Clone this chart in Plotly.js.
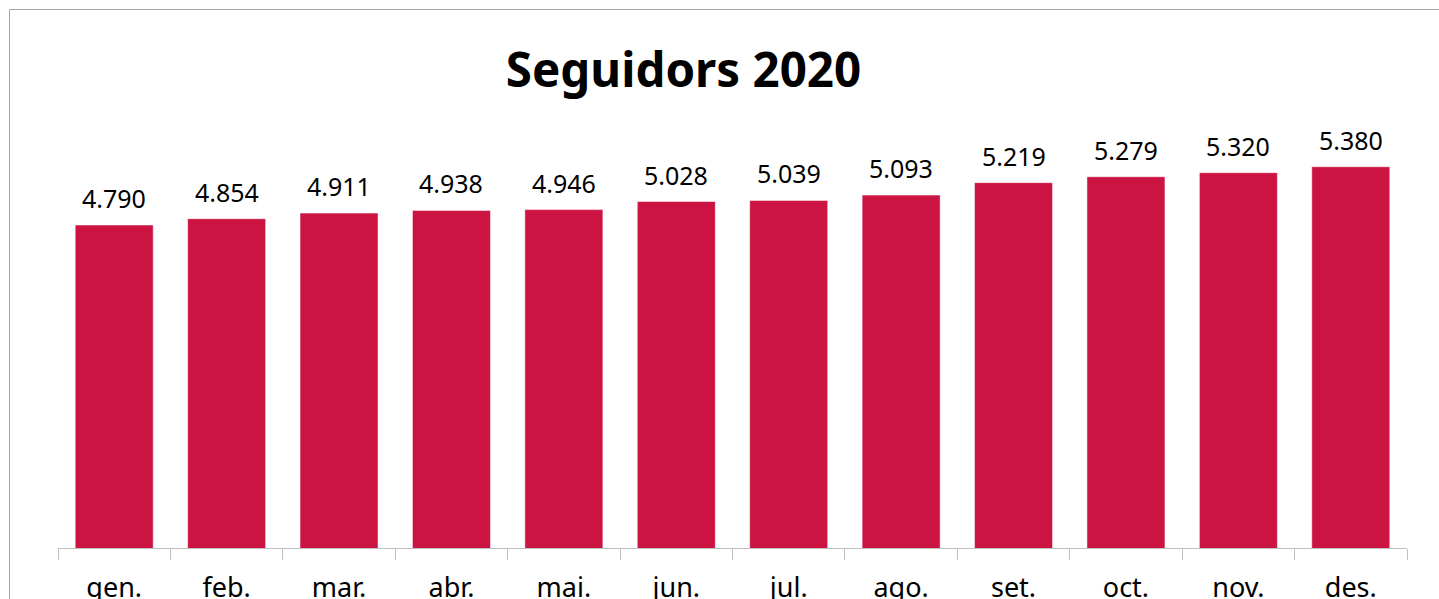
<!DOCTYPE html>
<html>
<head>
<meta charset="utf-8">
<script src="https://cdn.plot.ly/plotly-3.0.1.min.js"></script>
<style>html,body{margin:0;padding:0;background:#fff;overflow:hidden}</style>
</head>
<body>
<div id="chart" style="width:1439px;height:599px"></div>
<script>
const months = ['gen.','feb.','mar.','abr.','mai.','jun.','jul.','ago.','set.','oct.','nov.','des.'];
const followers = [4790,4854,4911,4938,4946,5028,5039,5093,5219,5279,5320,5380];
const chartTitle = 'Seguidors 2020';

const W = 1439, H = 599;
const L = 58, R = 32, T = 110, B = 51;
const plotW = W - L - R, plotH = H - T - B;

function fmt(v){ return v.toLocaleString('de-DE'); }

const annotations = months.map((m,i)=>({
  x: m, y: followers[i], xref:'x', yref:'y',
  text: fmt(followers[i]), showarrow:false,
  yanchor:'bottom', xanchor:'center', yshift: 8,
  font:{family:'Noto Sans', size:25, color:'#000'}
}));

const px = (p)=> (p - L)/plotW;
const py = (p)=> (H - B - p)/plotH;

const data = [{
  type:'bar', x: months, y: followers,
  marker:{color:'#CB1441', line:{color:'rgba(255,255,255,0.5)', width:1}},
  hoverinfo:'none'
}];

const layout = {
  width:W, height:H,
  margin:{l:L, r:R, t:T, b:B, pad:0},
  paper_bgcolor:'#fff', plot_bgcolor:'#fff',
  showlegend:false,
  bargap:0.306,
  title:{text:'<b>'+chartTitle+'</b>', font:{family:'Noto Sans', size:47.5, color:'#000'},
    x:683.5/W, xref:'container', xanchor:'center', y:1-70/H, yref:'container', yanchor:'middle'},
  xaxis:{type:'category', showline:true, linecolor:'#BFBFBF', linewidth:1,
    ticks:'outside', tickson:'boundaries', ticklen:11, tickcolor:'#BFBFBF', tickwidth:1,
    tickfont:{family:'Noto Sans', size:27, color:'#000'}, ticklabelstandoff:16,
    showgrid:false, zeroline:false, fixedrange:true},
  yaxis:{range:[1521, 1521 + plotH/0.0988], visible:false, showgrid:false, zeroline:false, fixedrange:true},
  annotations: annotations,
  shapes:[
    {type:'line', xref:'paper', yref:'paper', x0:px(9.5), x1:px(1500), y0:py(9.5), y1:py(9.5), line:{color:'#A6A6A6', width:1}},
    {type:'line', xref:'paper', yref:'paper', x0:px(9.5), x1:px(9.5), y0:py(9.5), y1:py(700), line:{color:'#A6A6A6', width:1}}
  ]
};

Plotly.newPlot('chart', data, layout, {displayModeBar:false, staticPlot:true});
</script>
</body>
</html>
